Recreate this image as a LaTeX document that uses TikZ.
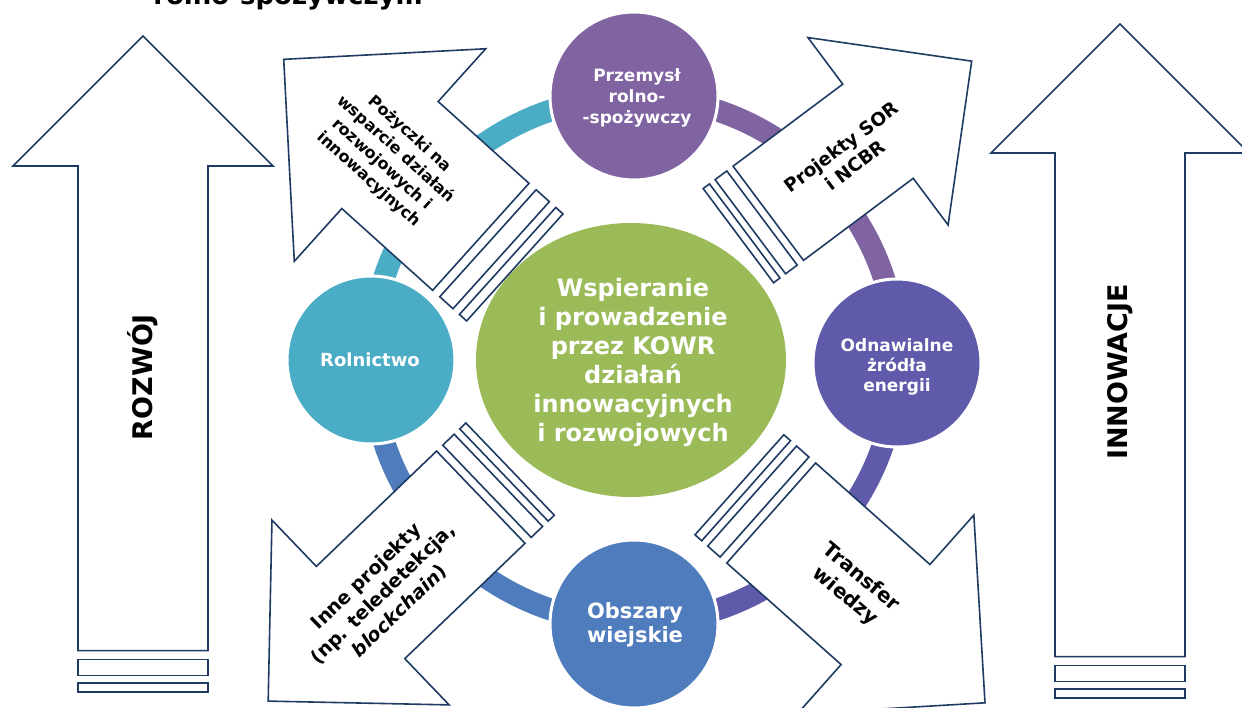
\documentclass[tikz,border=0pt]{standalone}
\usepackage{fontspec}
\setmainfont{DejaVu Sans}
\usetikzlibrary{shapes.geometric}
\definecolor{navy}{HTML}{1F3B63}
\definecolor{cteal}{HTML}{4BACC6}
\definecolor{cpurp}{HTML}{8064A2}
\definecolor{cindi}{HTML}{5F5AAA}
\definecolor{cblue}{HTML}{4F7CBD}
\definecolor{cgreen}{HTML}{9BBB59}
\newcommand\fs[2]{\fontsize{#1}{#2}\selectfont\bfseries}
\newcommand\stripedarrow[6]{%
 \begin{scope}[shift={(#1,#2)},rotate=#3]
  \pgfmathsetmacro\kk{#5/65}
  \pgfmathsetmacro\ga{-8.7*\kk}
  \pgfmathsetmacro\gb{-24.8*\kk}
  \pgfmathsetmacro\gc{-32.6*\kk}
  \pgfmathsetmacro\gd{-41.3*\kk}
  \draw[arrowline] (0,-#5) -- (#4,-#5) -- (#4,-#6) -- ({#4+#6},0) -- (#4,#6) -- (#4,#5) -- (0,#5) -- cycle;
  \draw[arrowline] (\ga,-#5) rectangle (\gb,#5);
  \draw[arrowline] (\gc,-#5) rectangle (\gd,#5);
 \end{scope}}
\tikzset{
 arrowline/.style={draw=navy, line width=1.6pt, fill=white, line join=miter},
 ringarc/.style={line width=22pt},
 circ/.style={circle, minimum size=168pt, inner sep=0pt, draw=white, line width=3pt},
 wtext/.style={align=center, text=white, inner sep=0pt},
 atext/.style={align=center, text=black, inner sep=0pt},
}
\begin{document}
\begin{tikzpicture}[x=1pt,y=1pt]
\useasboundingbox (0,0) rectangle (1242,-707);
\fill[white] (0,0) rectangle (1242,-707);
% partial title
\node[anchor=base, inner sep=0pt, font={\fs{26}{30}}] (title) at (288,-4) {rolno-spożywczym};
% ring
\coordinate (rc) at (634,-360);
\draw[ringarc, cteal] ([shift={(90:263)}]rc) arc[start angle=90, end angle=180, radius=263];
\draw[ringarc, cpurp] ([shift={(0:263)}]rc) arc[start angle=0, end angle=90, radius=263];
\draw[ringarc, cindi] ([shift={(270:263)}]rc) arc[start angle=270, end angle=360, radius=263];
\draw[ringarc, cblue] ([shift={(180:263)}]rc) arc[start angle=180, end angle=270, radius=263];
% circles
\node[circ, fill=cpurp] (prz) at (634,-96) {};
\node[circ, fill=cteal] (rol) at (371,-360) {};
\node[circ, fill=cindi] (oze) at (897,-363) {};
\node[circ, fill=cblue] (obs) at (634,-624) {};
\node[wtext, font={\fs{17}{21}}] (przt) at (637,-98) {Przemysł\\rolno-\\-spożywczy};
\node[wtext, font={\fs{18}{22}}] (rolt) at (370,-360) {Rolnictwo};
\node[wtext, font={\fs{17}{20}}] (ozet) at (897,-367) {Odnawialne\\żródła\\energii};
\node[wtext, font={\fs{21}{24}}] (obst) at (635,-625) {Obszary\\wiejskie};
% center
\node[ellipse, fill=cgreen, minimum width=310pt, minimum height=274pt, inner sep=0pt] (ctr) at (631,-360) {};
\node[wtext, font={\fs{24}{29}}] (ctrt) at (633,-362) {Wspieranie\\i prowadzenie\\przez KOWR\\działań\\innowacyjnych\\i rozwojowych};
% side arrows
\stripedarrow{143}{-650.6}{90}{484.6}{65}{130}
\stripedarrow{1120}{-656.6}{90}{503.6}{65}{129}
\node[atext, rotate=90, font={\fs{27}{30}}] (rozt) at (143,-377) {ROZWÓJ};
\node[atext, rotate=90, font={\fs{27}{30}}] (innt) at (1120,-372) {INNOWACJE};
% diagonal arrows
\stripedarrow{480.8}{-236.8}{138}{122.2}{72}{143}
\stripedarrow{768.3}{-213.3}{36.8}{137}{58.8}{117}
\stripedarrow{480.8}{-497.2}{223.8}{166.6}{63.9}{128}
\stripedarrow{771.2}{-513}{-41.6}{152.9}{66.9}{133}
\node[atext, rotate=-42, font={\fs{16}{20.5}}] (tlt) at (389,-157) {Pożyczki na\\wsparcie działań\\rozwojowych i\\innowacyjnych};
\node[atext, rotate=37, font={\fs{18.5}{23}}] (trt) at (848,-156) {Projekty SOR\\i NCBR};
\node[atext, rotate=44, font={\fs{19}{24}}] (blt) at (383,-594) {Inne projekty\\(np. teledetekcja,\\\textit{blockchain})};
\node[atext, rotate=-40, font={\fs{20}{25}}] (brt) at (853,-587) {Transfer\\wiedzy};
\end{tikzpicture}
\end{document}
